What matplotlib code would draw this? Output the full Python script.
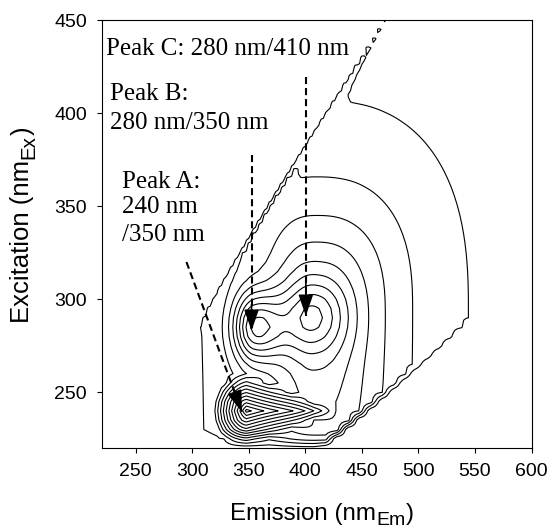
import numpy as np
import matplotlib.pyplot as plt

plt.rcParams['font.family'] = ['Liberation Sans', 'DejaVu Sans']

# EEM measurement grid (nm)
em = np.arange(220, 601, 2)
ex = np.arange(220, 451, 5)

# peak A (protein-like, low excitation): sharp cone, tail to the red
a_em, a_ex, a_height = 348, 240, 11.4
a_w_left, a_w_right, a_w_ex = 30, 80, 20

# peaks B and C: gaussian lobes on top of the humic background
bc_em = [355, 405]
bc_ex = [285, 290]
bc_height = [6.95, 3.35]
bc_sd_left = [13, 18]
bc_sd_right = [19, 22]
bc_sd_ex = [13, 13]

# broad humic-like background
hum_em, hum_ex, hum_height = 410, 295, 6.0
hum_w_left, hum_w_right, hum_w_down, hum_w_up = 45, 60, 130, 50

# weak scatter ridge along the rayleigh line, growing with excitation
ridge_offset, ridge_width, ridge_height, ridge_from_ex = 20, 4, 0.5, 275

# removed scatter bands / low excitation edge
rayleigh_offset, second_offset, low_ex = 15, 22, 219

levels = list(range(1, 14))

EM, EX = np.meshgrid(em, ex)

dem = EM - a_em
dex = EX - a_ex
r = np.where(dem > 0, np.abs(dex) / a_w_ex + dem / a_w_right,
             np.hypot(dex / a_w_ex, dem / a_w_left))
F = a_height * np.clip(1 - r, 0, None)

for m0, x0, h, sl, sr, sx in zip(bc_em, bc_ex, bc_height, bc_sd_left, bc_sd_right, bc_sd_ex):
    d = EM - m0
    s = np.where(d < 0, sl, sr)
    F += h * np.exp(-0.5 * ((d / s) ** 2 + ((EX - x0) / sx) ** 2))

dm = EM - hum_em
dx = EX - hum_ex
u = np.abs(dm) / np.where(dm < 0, hum_w_left, hum_w_right)
v = np.abs(dx) / np.where(dx < 0, hum_w_down, hum_w_up)
rh = (u ** 2.5 + v ** 2.5) ** 0.4
F += hum_height / (1 + rh ** 2)

F += ridge_height * np.exp(-0.5 * ((EM - EX - ridge_offset) / ridge_width) ** 2) \
    * np.clip((EX - ridge_from_ex) / 175, 0, 1)

mask = np.clip((EM - EX - rayleigh_offset) / 4, 0, 1) \
    * np.clip((2 * EX - second_offset - EM) / 10, 0, 1) \
    * np.clip((EX - low_ex) / 8, 0, 1)
F = F * mask

fig = plt.figure(figsize=(5.52, 5.29), dpi=100)
ax = fig.add_axes([0.184, 0.153, 0.779, 0.809])
ax.contour(em, ex, F, levels=levels, colors='black', linewidths=0.8)

ax.set_xlim(220, 600)
ax.set_ylim(220, 450)
ax.set_xticks([250, 300, 350, 400, 450, 500, 550, 600])
ax.set_yticks([250, 300, 350, 400, 450])
ax.tick_params(direction='out', length=3.6, width=0.8, labelsize=14, pad=7)
for s in ax.spines.values():
    s.set_linewidth(0.8)

# axis titles with near full-size subscripts
t1 = fig.text(230 / 552, 1 - 520 / 529, 'Emission (nm', fontsize=17.4, ha='left', va='baseline')
t2 = ax.annotate('Em', xy=(1, 0), xycoords=t1, xytext=(0.5, 0), textcoords='offset points',
                 fontsize=14, ha='left', va='baseline')
ax.annotate(')', xy=(1, 0), xycoords=(t2, t1), fontsize=17.4, ha='left', va='bottom')

t1 = fig.text(34.5 / 552, 1 - 323 / 529, 'Excitation (nm', fontsize=18.5, rotation=90,
              ha='right', va='bottom')
t2 = ax.annotate('Ex', xy=(1, 1), xycoords=t1, xytext=(3, 0.5), textcoords='offset points',
                 fontsize=14.8, rotation=90, ha='right', va='bottom')
ax.annotate(')', xy=(1, 1), xycoords=(t1, t2), fontsize=18.5, rotation=90, ha='right', va='bottom')

# peak annotations
serif = dict(family='Liberation Serif', fontsize=18, va='baseline')
ax.text(223.8, 431.2, 'Peak C: 280 nm/410 nm', **serif)
ax.text(227.3, 407.0, 'Peak B:', **serif)
ax.text(227.3, 391.3, '280 nm/350 nm', **serif)
ax.text(237.7, 359.7, 'Peak A:', **serif)
ax.text(237.7, 346.3, '240 nm', **serif)
ax.text(237.7, 331.5, '/350 nm', **serif)

# dashed shafts with solid heads
arrow_tips = [(344, 239.5), (352.5, 283), (400.5, 291)]
arrow_tails = [(295, 320), (352.5, 377.5), (400.5, 419.5)]
head = dict(arrowstyle='-|>,head_length=1.3,head_width=0.45', lw=1.2, color='black',
            shrinkA=0, shrinkB=0, mutation_scale=10)
for (x1, y1), (x0, y0) in zip(arrow_tips, arrow_tails):
    ax.plot([x0, x1], [y0, y1], color='black', lw=1.5, dashes=(3.4, 1.9))
    ax.annotate('', xy=(x1, y1), xytext=(x1 + 0.15 * (x0 - x1), y1 + 0.15 * (y0 - y1)),
                arrowprops=head)

fig.savefig('out.png', dpi=100)
